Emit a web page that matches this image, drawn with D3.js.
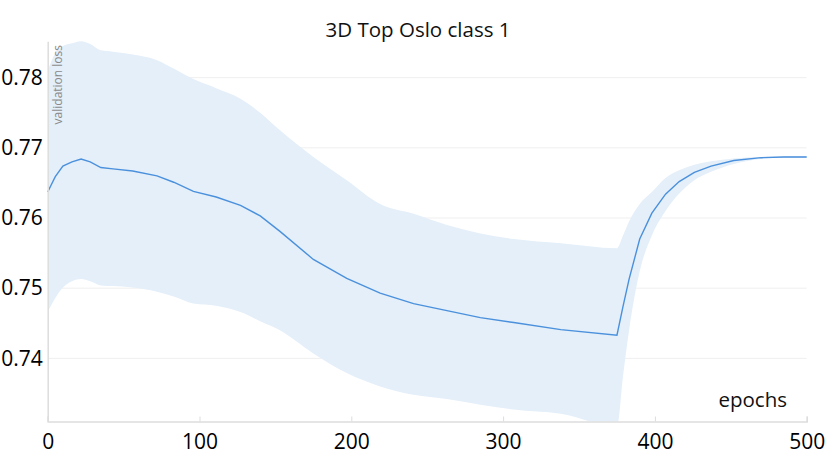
<!DOCTYPE html>
<html>
<head>
<meta charset="utf-8">
<script src="https://cdn.jsdelivr.net/npm/d3@7"></script>
<style>
  html, body { margin: 0; padding: 0; background: #fff; }
  svg { display: block; font-family: "Open Sans", "Noto Sans", sans-serif; }
</style>
</head>
<body>
<svg id="chart" width="830" height="467"></svg>
<script>
const title = "3D Top Oslo class 1";
const xLabel = "epochs";
const yLabel = "validation loss";
const xTicks = [0, 100, 200, 300, 400, 500];
const yTicks = [0.74, 0.75, 0.76, 0.77, 0.78];

const epochs = [0,5,10,16,22,28,35,43,56,72,83,96,111,127,140,153,175,197,219,241,263,285,307,338,375,379,383,390,398,407,416,426,437,452,470,485,500];
const meanLoss = [0.7637,0.7659,0.7674,0.7680,0.7684,0.7680,0.7672,0.7670,0.7667,0.7660,0.7651,0.7638,0.7630,0.7618,0.7603,0.7581,0.7541,0.7514,0.7493,0.7478,0.7468,0.7458,0.7451,0.7441,0.7433,0.7474,0.7513,0.7570,0.7607,0.7634,0.7652,0.7665,0.7674,0.7682,0.7686,0.7687,0.7687];
const upperLoss = [0.7810,0.7835,0.7845,0.7849,0.7852,0.7848,0.7839,0.7837,0.7833,0.7825,0.7813,0.7798,0.7785,0.7770,0.7750,0.7725,0.7687,0.7654,0.7620,0.7606,0.7590,0.7578,0.7570,0.7564,0.7557,0.7575,0.7595,0.7620,0.7637,0.7657,0.7668,0.7676,0.7681,0.7685,0.7687,0.7688,0.7688];
const lowerLoss = [0.7466,0.7486,0.7501,0.7510,0.7513,0.7510,0.7504,0.7503,0.7501,0.7495,0.7488,0.7478,0.7475,0.7466,0.7453,0.7440,0.7407,0.7379,0.7360,0.7348,0.7342,0.7334,0.7327,0.7321,0.7303,0.7375,0.7440,0.7524,0.7575,0.7610,0.7635,0.7654,0.7666,0.7677,0.7684,0.7686,0.7686];

const data = epochs.map((e, i) => ({ e, m: meanLoss[i], hi: upperLoss[i], lo: lowerLoss[i] }));

const svg = d3.select("#chart");
const mLeft = 47.7, mRight = 806.7, mTop = 41.2, mBottom = 421.5;

const x = d3.scaleLinear().domain([0, 500]).range([mLeft, mRight]);
const y = d3.scaleLinear().domain([0.731, 0.7852]).range([mBottom, mTop]);

svg.append("defs").append("clipPath").attr("id", "plotclip")
  .append("rect").attr("x", mLeft).attr("y", mTop - 2).attr("width", mRight - mLeft + 4).attr("height", mBottom - mTop + 2);

// gridlines
svg.append("g").selectAll("line").data(yTicks).join("line")
  .attr("x1", mLeft).attr("x2", mRight)
  .attr("y1", d => y(d)).attr("y2", d => y(d))
  .attr("stroke", "#efefef").attr("stroke-width", 1);

// band
const area = d3.area().x(d => x(d.e)).y0(d => y(d.lo)).y1(d => y(d.hi)).curve(d3.curveMonotoneX);
svg.append("path").datum(data).attr("d", area)
  .attr("fill", "#e4eff9").attr("clip-path", "url(#plotclip)");

// mean line
const line = d3.line().x(d => x(d.e)).y(d => y(d.m));
svg.append("path").datum(data).attr("d", line)
  .attr("fill", "none").attr("stroke", "#4a90dc").attr("stroke-width", 1.4);

// axes
const xAxis = svg.append("g").attr("transform", `translate(0,${mBottom})`)
  .call(d3.axisBottom(x).tickValues(xTicks).tickSize(-5).tickPadding(13).tickFormat(d3.format("d")));
xAxis.select(".domain").attr("stroke", "#dddddd").attr("stroke-width", 1.5);
xAxis.selectAll(".tick line").attr("stroke", "#dddddd");
xAxis.selectAll("text").attr("fill", "#000").attr("font-size", 21).attr("font-family", "Open Sans");

const yAxis = svg.append("g").attr("transform", `translate(${mLeft},0)`)
  .call(d3.axisLeft(y).tickValues(yTicks).tickSize(0).tickPadding(5).tickFormat(d3.format(".2f")));
yAxis.select(".domain").attr("stroke", "#dddddd").attr("stroke-width", 1.5);
yAxis.selectAll("text").attr("fill", "#000").attr("font-size", 21).attr("font-family", "Open Sans");

// title
svg.append("text").attr("x", 418).attr("y", 37).attr("text-anchor", "middle")
  .attr("font-size", 20.5).attr("fill", "#111").text(title);

// x label
svg.append("text").attr("x", 787).attr("y", 407).attr("text-anchor", "end")
  .attr("font-size", 20.5).attr("fill", "#111").text(xLabel);

// y label
svg.append("text").attr("transform", "translate(61.5,45) rotate(-90)").attr("text-anchor", "end")
  .attr("font-size", 12).attr("fill", "#8a8a8a").text(yLabel);
</script>
</body>
</html>
